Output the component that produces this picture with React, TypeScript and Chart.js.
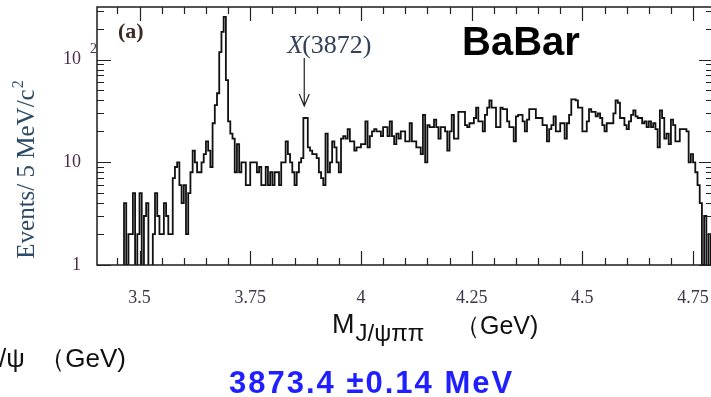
import React, { useEffect, useRef } from 'react';
import { Chart, registerables } from 'chart.js';

Chart.register(...registerables);

// Histogram binning (GeV)
const BIN_START = 3.4;
const BIN_WIDTH = 0.005;

// Events per 5 MeV bin, starting at 3.400 GeV
const eventsPerBin = [
  0, 0, 0, 0, 0, 0, 0, 0, 0, 0, 0, 0, 0, 4, 1, 2, 2, 5, 0, 2,
  5, 0, 3, 4, 0, 0, 2, 5, 3, 2, 2, 4, 3, 2, 2, 7, 9, 10, 6, 4,
  6, 2, 5, 8, 13, 10, 8, 8, 10, 12, 16, 13, 9, 24, 36, 47, 118, 186, 260, 63,
  25, 19, 17, 8, 15, 8, 10, 10, 6, 6, 10, 10, 10, 8, 9, 6, 6, 9, 6, 8,
  6, 8, 8, 6, 10, 10, 16, 12, 10, 8, 6, 8, 10, 11, 27, 27, 14, 13, 12, 12,
  11, 8, 7, 6, 19, 8, 10, 16, 14, 10, 8, 17, 18, 17, 21, 16, 16, 13, 14, 14,
  15, 15, 25, 14, 18, 20, 21, 20, 20, 18, 22, 22, 18, 25, 18, 15, 19, 17, 20, 20,
  16, 16, 24, 16, 16, 14, 14, 12, 29, 10, 23, 22, 22, 26, 22, 17, 22, 22, 20, 13,
  20, 29, 17, 17, 31, 31, 31, 23, 22, 24, 24, 27, 34, 25, 25, 20, 29, 34, 40, 34,
  34, 22, 22, 34, 33, 33, 25, 22, 22, 16, 28, 29, 29, 25, 20, 26, 33, 33, 33, 27,
  27, 27, 23, 23, 16, 21, 23, 28, 20, 20, 24, 24, 17, 24, 29, 41, 41, 40, 34, 34,
  20, 20, 25, 33, 31, 31, 28, 30, 27, 23, 20, 24, 24, 24, 30, 40, 38, 27, 27, 23,
  21, 25, 29, 32, 28, 27, 27, 24, 25, 22, 25, 22, 24, 21, 14, 32, 27, 17, 19, 15,
  26, 23, 16, 16, 21, 21, 21, 20, 10, 12, 10, 8, 6, 4, 1, 3, 0, 2, 0,
];

const xRange = [3.404, 4.795];
const yRange = [1, 325];
const xTickValues = [3.5, 3.75, 4, 4.25, 4.5, 4.75];
const xTickLabels = ['3.5', '3.75', '4', '4.25', '4.5', '4.75'];
const yTickValues = [1, 10, 100];
const yTickLabels = ['1', '10', '10'];
const yTickExponents = ['', '', '2'];

const peakMass = 3.872; // X(3872) arrow position
const peakLabel = '(3872)';
const yTitle = 'Events/ 5 MeV/c';
const xTitleMain = 'M';
const xTitleSub = 'J/ψππ';
const xTitleUnit = '（GeV)';
const leftCutText = '/ψ  （GeV)';
const massText = '3873.4 ±0.14 MeV';
const panelText = '(a)';
const expText = 'BaBar';

const SERIF = "'Liberation Serif', 'DejaVu Serif', serif";
const SANS = "'Liberation Sans', Arial, sans-serif";

const decorPlugin = {
  id: 'decor',
  afterDatasetsDraw(chart: any) {
    const { ctx, chartArea: a, scales } = chart;
    const xs = scales.x;
    const ys = scales.y;
    ctx.save();

    // frame
    ctx.strokeStyle = '#1c1c1c';
    ctx.lineWidth = 1.5;
    ctx.strokeRect(a.left, a.top, a.right - a.left, a.bottom - a.top);

    // inward ticks
    ctx.lineWidth = 1.2;
    ctx.strokeStyle = '#222';
    ctx.beginPath();
    const major = 14;
    const minor = 7;
    for (let k = 0; k <= 30; k++) {
      const v = 3.45 + k * 0.05;
      if (v > xs.max) break;
      const isMajor = xTickValues.some((t) => Math.abs(t - v) < 1e-6);
      const len = isMajor ? major : minor;
      const px = Math.round(xs.getPixelForValue(v)) + 0.5;
      ctx.moveTo(px, a.bottom);
      ctx.lineTo(px, a.bottom - len);
      ctx.moveTo(px, a.top);
      ctx.lineTo(px, a.top + len);
    }
    for (const d of [1, 10, 100]) {
      for (let m = 1; m <= 9; m++) {
        const v = d * m;
        if (v > ys.max) continue;
        const len = m === 1 ? major : minor;
        const py = Math.round(ys.getPixelForValue(v)) + 0.5;
        ctx.moveTo(a.left, py);
        ctx.lineTo(a.left + len, py);
        ctx.moveTo(a.right, py);
        ctx.lineTo(a.right - len, py);
      }
    }
    ctx.stroke();

    // superscript exponent on y tick labels
    ctx.fillStyle = '#4b2d4d';
    ctx.font = `14px ${SERIF}`;
    ctx.textBaseline = 'alphabetic';
    ctx.textAlign = 'left';
    yTickValues.forEach((v, i) => {
      if (!yTickExponents[i]) return;
      const py = ys.getPixelForValue(v);
      ctx.fillText(yTickExponents[i], a.left - 7, py - 7);
    });

    // y axis title (rotated)
    ctx.save();
    ctx.translate(27, 170);
    ctx.rotate(-Math.PI / 2);
    ctx.fillStyle = '#2d4a66';
    ctx.font = `25px ${SERIF}`;
    const wMain = ctx.measureText(yTitle).width;
    ctx.font = `16px ${SERIF}`;
    const wSup = ctx.measureText('2').width;
    const start = -(wMain + wSup) / 2;
    ctx.textBaseline = 'middle';
    ctx.textAlign = 'left';
    ctx.font = `25px ${SERIF}`;
    ctx.fillText(yTitle, start, 0);
    ctx.font = `16px ${SERIF}`;
    ctx.fillText('2', start + wMain + 1, -8);
    ctx.restore();

    // (a)
    ctx.fillStyle = '#3b2a22';
    ctx.font = `bold 22px ${SERIF}`;
    ctx.textBaseline = 'alphabetic';
    ctx.fillText(panelText, 118, 38);

    // X(3872) label + arrow
    const px = xs.getPixelForValue(peakMass);
    ctx.fillStyle = '#34405a';
    ctx.font = `italic 26px ${SERIF}`;
    const wX = ctx.measureText('X').width;
    const lx = px - 17;
    ctx.fillText('X', lx, 53);
    ctx.font = `26px ${SERIF}`;
    ctx.fillText(peakLabel, lx + wX - 1, 53);
    ctx.strokeStyle = '#222';
    ctx.lineWidth = 1.2;
    ctx.beginPath();
    ctx.moveTo(px, 58);
    ctx.lineTo(px, 106);
    ctx.moveTo(px - 5, 94);
    ctx.lineTo(px, 106);
    ctx.lineTo(px + 5, 94);
    ctx.stroke();

    // BaBar
    ctx.fillStyle = '#000';
    ctx.font = `bold 40px ${SANS}`;
    ctx.fillText(expText, 462, 55);

    // x axis title
    ctx.fillStyle = '#111';
    ctx.font = `27px ${SANS}`;
    ctx.fillText(xTitleMain, 332, 333);
    const wM = ctx.measureText(xTitleMain).width;
    ctx.font = `24px ${SANS}`;
    ctx.fillText(xTitleSub, 332 + wM + 1, 341);
    ctx.font = `25px ${SANS}`;
    ctx.fillText(xTitleUnit, 455, 334);

    // cut-off text at bottom-left
    ctx.font = `26px ${SANS}`;
    ctx.fillText(leftCutText, -1, 367);

    // mass result
    ctx.fillStyle = '#1f1fff';
    (ctx as any).letterSpacing = '2px';
    ctx.font = `bold 31px ${SANS}`;
    ctx.fillText(massText, 229, 393);
    (ctx as any).letterSpacing = '0px';

    ctx.restore();
  },
};

const zeroPadding = (s: any) => {
  s.paddingLeft = 0;
  s.paddingRight = 0;
  s.paddingTop = 0;
  s.paddingBottom = 0;
};

export default function App() {
  const ref = useRef<HTMLCanvasElement>(null);

  useEffect(() => {
    const canvas = ref.current;
    if (!canvas) return;
    const floor = 0.5; // empty bins drawn down to the axis (below log-scale minimum)
    const points = eventsPerBin.map((n, i) => ({
      x: BIN_START + i * BIN_WIDTH,
      y: n > 0 ? n : floor,
    }));
    const last = eventsPerBin[eventsPerBin.length - 1];
    points.push({ x: BIN_START + eventsPerBin.length * BIN_WIDTH, y: last > 0 ? last : floor });

    const chart = new Chart(canvas, {
      type: 'line',
      data: {
        datasets: [
          {
            data: points,
            stepped: 'before',
            borderColor: '#111111',
            borderWidth: 1.8,
            pointRadius: 0,
            fill: false,
          },
        ],
      },
      options: {
        animation: false,
        responsive: false,
        devicePixelRatio: 1,
        layout: { padding: { left: 0, right: 7, top: 7, bottom: 0 } },
        plugins: { legend: { display: false }, tooltip: { enabled: false } },
        scales: {
          x: {
            type: 'linear',
            min: xRange[0],
            max: xRange[1],
            grid: { display: false, drawTicks: false },
            border: { display: false },
            afterBuildTicks: (s: any) => {
              s.ticks = xTickValues.map((v) => ({ value: v }));
            },
            afterFit: (s: any) => {
              s.height = 132;
              zeroPadding(s);
            },
            ticks: {
              autoSkip: false,
              maxRotation: 0,
              minRotation: 0,
              padding: 22,
              color: '#3d3548',
              font: { family: SERIF, size: 18 },
              callback: (v: any) => {
                const i = xTickValues.indexOf(Number(v));
                return i >= 0 ? xTickLabels[i] : '';
              },
            },
          },
          y: {
            type: 'logarithmic',
            min: yRange[0],
            max: yRange[1],
            grid: { display: false, drawTicks: false },
            border: { display: false },
            afterBuildTicks: (s: any) => {
              s.ticks = yTickValues.map((v) => ({ value: v }));
            },
            afterFit: (s: any) => {
              s.width = 97;
              zeroPadding(s);
            },
            ticks: {
              autoSkip: false,
              padding: 16,
              color: '#4b2d4d',
              font: { family: SERIF, size: 18 },
              callback: (v: any) => {
                const i = yTickValues.indexOf(Number(v));
                return i >= 0 ? yTickLabels[i] : '';
              },
            },
          },
        },
      },
      plugins: [decorPlugin],
    } as any);

    return () => chart.destroy();
  }, []);

  return (
    <div
      style={{
        position: 'fixed',
        left: 0,
        top: 0,
        width: 711,
        height: 397,
        overflow: 'hidden',
        background: '#fff',
      }}
    >
      <canvas ref={ref} width={720} height={397} style={{ display: 'block' }} />
    </div>
  );
}
